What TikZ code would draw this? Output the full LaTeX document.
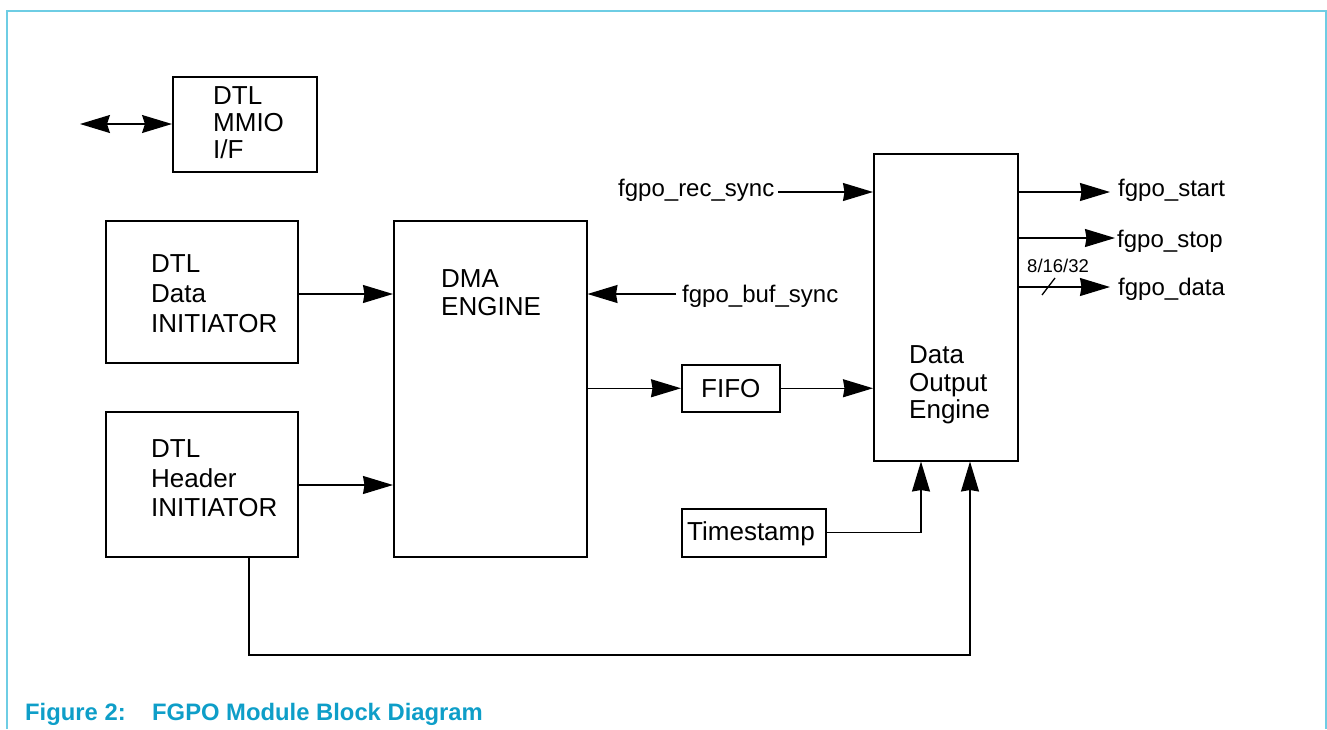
\documentclass[tikz,border=0pt]{standalone}
\usepackage{fontspec}
\setmainfont{Liberation Sans}
\usetikzlibrary{arrows.meta}
\definecolor{framecol}{RGB}{110,205,228}
\definecolor{capcol}{RGB}{14,158,200}
\begin{document}
\begin{tikzpicture}[x=1pt,y=-1pt,
  box/.style={draw, line width=1.5pt, inner sep=0pt, anchor=north west},
  lbl/.style={anchor=base west, inner sep=0pt, font=\fontsize{26}{30}\selectfont},
  sig/.style={anchor=base west, inner sep=0pt, font=\fontsize{24}{28}\selectfont},
  conn/.style={line width=1.3pt},
  arr/.style={conn, -{Stealth[length=30pt,width=18pt,inset=1.5pt]}},
  dblarr/.style={conn, {Stealth[length=30pt,width=18pt,inset=3pt]}-{Stealth[length=30pt,width=18pt,inset=3pt]}},
  captxt/.style={anchor=base west, inner sep=0pt, text=capcol, font=\fontsize{23.8}{28}\selectfont\bfseries},
  framestyle/.style={draw=framecol, line width=2pt}
]
\useasboundingbox (0,0) rectangle (1327,729);
\draw[framestyle] (7,729) -- (7,11) -- (1326,11) -- (1326,729);

% boxes
\node[box, minimum width=144pt, minimum height=95pt] (mmio) at (172,76) {};
\node[box, minimum width=192pt, minimum height=142pt] (data) at (105,220) {};
\node[box, minimum width=192pt, minimum height=145pt] (header) at (105,411) {};
\node[box, minimum width=193pt, minimum height=336pt] (dma) at (393,220) {};
\node[box, minimum width=98pt, minimum height=47pt] (fifo) at (681,364) {};
\node[box, minimum width=144pt, minimum height=307pt] (doe) at (873,153) {};
\node[box, minimum width=144pt, minimum height=48pt] (ts) at (681,508) {};

% box texts
\node[lbl] (mmio1) at (213,104) {DTL};
\node[lbl] (mmio2) at (213,131) {MMIO};
\node[lbl] (mmio3) at (213,158) {I/F};
\node[lbl] (data1) at (151,272) {DTL};
\node[lbl] (data2) at (151,302) {Data};
\node[lbl] (data3) at (151,332) {INITIATOR};
\node[lbl] (hdr1) at (151,457) {DTL};
\node[lbl] (hdr2) at (151,487) {Header};
\node[lbl] (hdr3) at (151,516) {INITIATOR};
\node[lbl] (dma1) at (441,287) {DMA};
\node[lbl] (dma2) at (441,315) {ENGINE};
\node[lbl] (doe1) at (909,363) {Data};
\node[lbl] (doe2) at (909,391) {Output};
\node[lbl] (doe3) at (909,418) {Engine};
\node[lbl] (fifot) at (701,397) {FIFO};
\node[lbl] (tst) at (687,540) {Timestamp};

% signal labels
\node[sig] (recsync) at (618,196) {fgpo\_rec\_sync};
\node[sig] (bufsync) at (682,302) {fgpo\_buf\_sync};
\node[sig] (start) at (1118,196) {fgpo\_start};
\node[sig] (stop) at (1117,247) {fgpo\_stop};
\node[sig] (odata) at (1118,295) {fgpo\_data};
\node[anchor=base west, inner sep=0pt, font=\fontsize{18.5}{22}\selectfont] (width) at (1027,272) {8/16/32};

% helper coordinates
\coordinate (ext) at (80,124);
\coordinate (ydata) at (0,294);
\coordinate (yhdr) at (0,485);
\coordinate (bufend) at (676,294);
\coordinate (recend) at (778,192);
\coordinate (ystart) at (1110,192);
\coordinate (ystop) at (1115,238);
\coordinate (ydat) at (1110,287);
\coordinate (tsx) at (921,0);
\coordinate (hx) at (249,0);
\coordinate (c1) at (249,655);
\coordinate (c2) at (970,655);
\coordinate (hx2) at (970,0);
\coordinate (s1) at (1042,295);
\coordinate (s2) at (1055,278);

% connectors
\draw[dblarr] (ext) -- (ext -| mmio.west);
\draw[arr] (data.east |- ydata) -- (dma.west |- ydata);
\draw[arr] (header.east |- yhdr) -- (dma.west |- yhdr);
\draw[arr] (bufend) -- (bufend -| dma.east);
\draw[arr] (dma.east |- fifo.west) -- (fifo.west);
\draw[arr] (fifo.east) -- (fifo.east -| doe.west);
\draw[arr] (recend) -- (recend -| doe.west);
\draw[arr] (doe.east |- ystart) -- (ystart);
\draw[arr] (doe.east |- ystop) -- (ystop);
\draw[arr] (doe.east |- ydat) -- (ydat);
\draw[conn] (s1) -- (s2);
\draw[arr] (ts.east) -| (doe.south -| tsx);
\draw[arr] (header.south -| hx) -- (c1) -- (c2) -- (doe.south -| hx2);

% caption
\node[captxt] (fig) at (25,720) {Figure 2:};
\node[captxt] (title) at (152,720) {FGPO Module Block Diagram};
\end{tikzpicture}
\end{document}
